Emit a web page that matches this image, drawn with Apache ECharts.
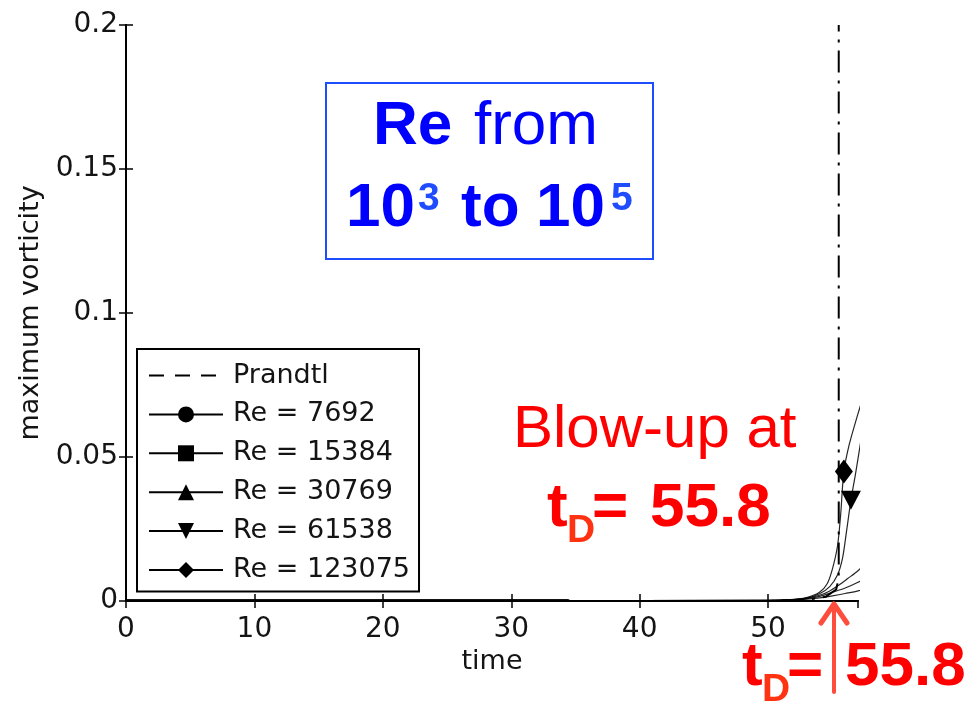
<!DOCTYPE html>
<html>
<head>
<meta charset="utf-8">
<script src="https://cdn.jsdelivr.net/npm/echarts@6/dist/echarts.min.js"></script>
<style>
  html, body { margin: 0; padding: 0; background: #fff; }
  #chart { width: 965px; height: 704px; }
</style>
</head>
<body>
<div id="chart"></div>
<script>
// Maximum vorticity against time for five Reynolds numbers, plus the Prandtl solution
// whose blow-up appears as the near-vertical dash-dot line.
const seriesNames = ['Prandtl', 'Re = 7692', 'Re = 15384', 'Re = 30769', 'Re = 61538', 'Re = 123075'];

// [time, maximum vorticity]
const prandtl = [[0, 0], [20, 0], [40, 0], [50, 0], [53, 0.0004], [54.5, 0.0015], [55.3, 0.004], [55.5, 0.008], [55.5, 0.2]];
const re7692 = [[0, 0.0005], [10, 0.0005], [20, 0.0005], [30, 0.0005], [34.4, 0.0005], [34.6, 0.0001], [45, 0.0001],
  [50, 0.0001], [52, 0.0003], [53, 0.0006], [54, 0.0011], [55, 0.0018], [56, 0.0026], [57, 0.0035], [58, 0.005]];
const re15384 = [[0, 0.0003], [20, 0.0003], [34.4, 0.0003], [34.6, 0.0001], [50, 0.0001], [52, 0.0004], [53, 0.0008],
  [54, 0.0016], [55, 0.003], [56, 0.0045], [57, 0.0065], [58, 0.009]];
const re30769 = [[0, 0.0001], [30, 0.0001], [50, 0.0002], [52, 0.0005], [53, 0.001], [54, 0.002], [54.8, 0.0035],
  [55.5, 0.0055], [56.2, 0.0078], [57, 0.0105], [58, 0.015]];
const re61538 = [[0, 0.0001], [30, 0.0001], [50, 0.0002], [52, 0.0005], [53, 0.001], [54, 0.0025], [54.8, 0.005],
  [55.4, 0.009], [55.8, 0.015], [56.1, 0.024], [56.45, 0.035], [56.8, 0.044], [57.2, 0.055]];
const re123075 = [[0, 0.0001], [30, 0.0001], [50, 0.0002], [52, 0.0006], [53, 0.0012], [54, 0.003], [54.6, 0.006],
  [55.0, 0.011], [55.4, 0.019], [55.65, 0.03], [55.9, 0.045], [56.3, 0.054], [56.8, 0.062], [57.2, 0.068]];

// time at which each curve carries its marker (beyond 57 the marker lies off the axes)
const markerTime = [null, 58, 58, 58, 56.45, 55.9];
const markerSymbol = ['none', 'circle', 'rect', 'triangle', 'triangle', 'diamond'];
const markerRotate = [0, 0, 0, 0, 180, 0];
const markerSize = [0, 17, 14, [17, 16], [20, 19], [18, 24]];
const curves = [prandtl, re7692, re15384, re30769, re61538, re123075];

const chart = echarts.init(document.getElementById('chart'), null, { renderer: 'canvas' });

const labelFont = { fontFamily: 'DejaVu Sans', fontSize: 27, color: '#141414' };

const series = curves.map((data, i) => ({
  name: seriesNames[i],
  type: 'line',
  data: data,
  symbol: markerSymbol[i],
  symbolRotate: markerRotate[i],
  symbolSize: (v) => (v[0] === markerTime[i] ? markerSize[i] : 0),
  showSymbol: i > 0,
  smooth: i > 0 ? 0.3 : false,
  itemStyle: { color: '#000' },
  lineStyle: i === 0
    ? { color: '#000', width: 2, type: [22, 8, 3, 8] }
    : { color: '#000', width: 1.2, opacity: 0.85 },
  emphasis: { disabled: true },
  clip: true,
  z: 3
}));

const tickStyle = { inside: true, length: 7, lineStyle: { color: '#000', width: 1.5 } };
const lineAxis = { lineStyle: { color: '#000', width: 2 } };

const option = {
  animation: false,
  backgroundColor: '#fff',
  grid: { left: 126, top: 25, right: 107, bottom: 103, containLabel: false },
  xAxis: [
    {
      type: 'value', min: 0, max: 57, interval: 10, position: 'bottom',
      axisLine: lineAxis, axisTick: tickStyle, splitLine: { show: false },
      axisLabel: Object.assign({ margin: 15, showMaxLabel: false }, labelFont, { fontSize: 28 }),
      name: 'time', nameLocation: 'middle', nameGap: 45,
      nameTextStyle: labelFont
    },
    {
      type: 'value', min: 0, max: 57, interval: 10, position: 'top',
      axisLine: lineAxis, axisTick: tickStyle, splitLine: { show: false },
      axisLabel: { show: false }
    }
  ],
  yAxis: [
    {
      type: 'value', min: 0, max: 0.2, interval: 0.05, position: 'left',
      axisLine: lineAxis, axisTick: tickStyle, splitLine: { show: false },
      axisLabel: Object.assign({ margin: 8 }, labelFont, { fontSize: 28 }),
      name: 'maximum vorticity', nameLocation: 'middle', nameGap: 80,
      nameTextStyle: labelFont
    },
    {
      type: 'value', min: 0, max: 0.2, interval: 0.05, position: 'right',
      axisLine: lineAxis, axisTick: tickStyle, splitLine: { show: false },
      axisLabel: { show: false }
    }
  ],
  legend: {
    orient: 'vertical',
    left: 137, top: 349,
    padding: [13, 9, 8, 11],
    itemGap: 11.9,
    itemWidth: 74,
    itemHeight: 20,
    selectedMode: false,
    backgroundColor: '#fff',
    borderColor: '#000',
    borderWidth: 2,
    borderRadius: 0,
    lineStyle: { width: 2, opacity: 1 },
    textStyle: Object.assign({ padding: [0, 0, 0, 5] }, labelFont),
    data: seriesNames.map((n, i) => i === 0
      ? { name: n, lineStyle: { type: [15, 11], width: 2 }, itemStyle: { opacity: 0 } }
      : { name: n, lineStyle: { width: 2, opacity: 1 } })
  },
  series: series,
  graphic: [
    // boxed note on the Reynolds-number range
    { type: 'rect', shape: { x: 326, y: 83, width: 327, height: 176 },
      style: { fill: '#fff', stroke: '#1f4cff', lineWidth: 2 }, z: 10 },
    { type: 'text', x: 373, y: 127, z: 11,
      style: { text: 'Re', fontFamily: 'Liberation Sans', fontWeight: 'bold', fontSize: 62, fill: '#0000ff', align: 'left', verticalAlign: 'middle' } },
    { type: 'text', x: 474, y: 127, z: 11,
      style: { text: 'from', fontFamily: 'Liberation Sans', fontSize: 62, fill: '#0000ff', align: 'left', verticalAlign: 'middle' } },
    { type: 'text', x: 346, y: 209, z: 11,
      style: { text: '10', fontFamily: 'Liberation Sans', fontWeight: 'bold', fontSize: 62, fill: '#0000ff', align: 'left', verticalAlign: 'middle' } },
    { type: 'text', x: 418, y: 199, z: 11,
      style: { text: '3', fontFamily: 'Liberation Sans', fontWeight: 'bold', fontSize: 39, fill: '#1f4cff', align: 'left', verticalAlign: 'middle' } },
    { type: 'text', x: 461, y: 209, z: 11,
      style: { text: 'to', fontFamily: 'Liberation Sans', fontWeight: 'bold', fontSize: 62, fill: '#0000ff', align: 'left', verticalAlign: 'middle' } },
    { type: 'text', x: 536, y: 209, z: 11,
      style: { text: '10', fontFamily: 'Liberation Sans', fontWeight: 'bold', fontSize: 62, fill: '#0000ff', align: 'left', verticalAlign: 'middle' } },
    { type: 'text', x: 611, y: 199, z: 11,
      style: { text: '5', fontFamily: 'Liberation Sans', fontWeight: 'bold', fontSize: 39, fill: '#1f4cff', align: 'left', verticalAlign: 'middle' } },

    // blow-up annotation inside the axes
    { type: 'text', x: 513, y: 430, z: 11,
      style: { text: 'Blow-up at', fontFamily: 'Liberation Sans', fontSize: 60, fill: '#ff0000', align: 'left', verticalAlign: 'middle' } },
    { type: 'text', x: 547, y: 509, z: 11,
      style: { text: 't', fontFamily: 'Liberation Sans', fontWeight: 'bold', fontSize: 62, fill: '#ff0000', align: 'left', verticalAlign: 'middle' } },
    { type: 'text', x: 567, y: 531, z: 11,
      style: { text: 'D', fontFamily: 'Liberation Sans', fontWeight: 'bold', fontSize: 39, fill: '#ff3311', align: 'left', verticalAlign: 'middle' } },
    { type: 'text', x: 592, y: 509, z: 11,
      style: { text: '=', fontFamily: 'Liberation Sans', fontWeight: 'bold', fontSize: 62, fill: '#ff0000', align: 'left', verticalAlign: 'middle' } },
    { type: 'text', x: 650, y: 509, z: 11,
      style: { text: '55.8', fontFamily: 'Liberation Sans', fontWeight: 'bold', fontSize: 62, fill: '#ff0000', align: 'left', verticalAlign: 'middle' } },

    // arrow marking the blow-up time on the time axis
    { type: 'line', z: 11, shape: { x1: 834, y1: 607, x2: 834, y2: 692 },
      style: { stroke: '#ff4d3d', lineWidth: 4, lineCap: 'round' } },
    { type: 'polyline', z: 11, shape: { points: [[821, 623], [834, 604], [847, 623]] },
      style: { stroke: '#ff4d3d', lineWidth: 5, lineCap: 'round', lineJoin: 'round', fill: null } },
    { type: 'text', x: 742, y: 668, z: 12,
      style: { text: 't', fontFamily: 'Liberation Sans', fontWeight: 'bold', fontSize: 62, fill: '#ff0000', align: 'left', verticalAlign: 'middle' } },
    { type: 'text', x: 762, y: 690, z: 12,
      style: { text: 'D', fontFamily: 'Liberation Sans', fontWeight: 'bold', fontSize: 39, fill: '#ff3311', align: 'left', verticalAlign: 'middle' } },
    { type: 'text', x: 787, y: 668, z: 12,
      style: { text: '=', fontFamily: 'Liberation Sans', fontWeight: 'bold', fontSize: 62, fill: '#ff0000', align: 'left', verticalAlign: 'middle' } },
    { type: 'text', x: 845, y: 668, z: 12,
      style: { text: '55.8', fontFamily: 'Liberation Sans', fontWeight: 'bold', fontSize: 62, fill: '#ff0000', align: 'left', verticalAlign: 'middle' } }
  ]
};

chart.setOption(option);
</script>
</body>
</html>
